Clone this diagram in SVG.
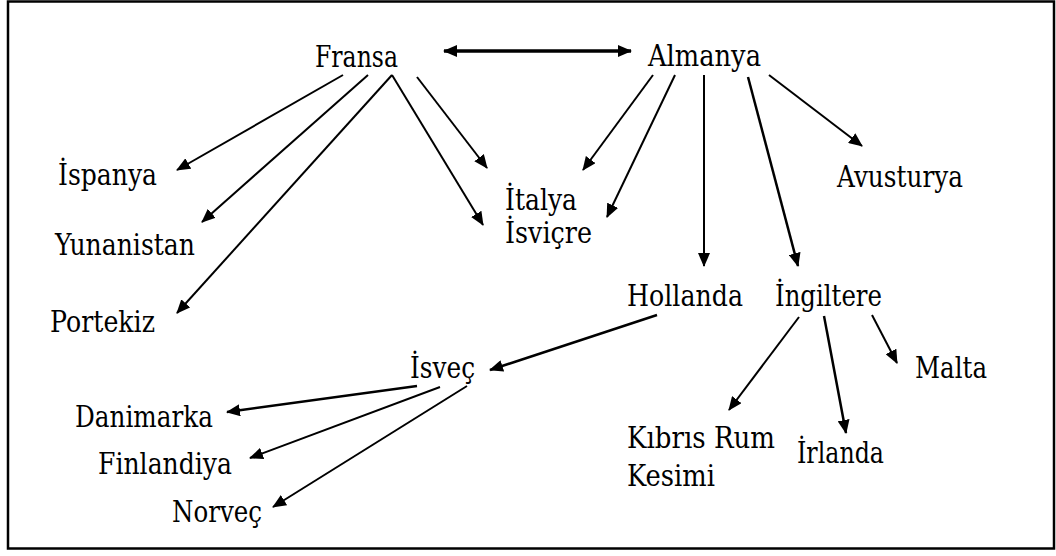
<svg xmlns="http://www.w3.org/2000/svg" width="1056" height="556" viewBox="0 0 1056 556">
<style>
.c line{stroke:#000;stroke-width:2;marker-end:url(#ah)}
.t text{font-family:"DejaVu Serif","Liberation Serif",serif;font-size:29px;fill:#000}
</style>
<defs>
<marker id="ah" markerUnits="userSpaceOnUse" markerWidth="14" markerHeight="12" refX="13" refY="6" orient="auto">
<path d="M0,0 L14,6 L0,12 Z" fill="#000"/>
</marker>
<marker id="as" markerUnits="userSpaceOnUse" markerWidth="14" markerHeight="12" refX="1" refY="6" orient="auto">
<path d="M14,0 L0,6 L14,12 Z" fill="#000"/>
</marker>
</defs>
<rect x="8" y="1.5" width="1046" height="547" fill="#fff" stroke="#000" stroke-width="2.5"/>
<g class="c" id="connectors">
<line x1="444" y1="51" x2="631" y2="51" style="stroke-width:3.5;marker-start:url(#as)"/>
<line x1="343" y1="75" x2="177" y2="170"/>
<line x1="368" y1="75" x2="202" y2="222"/>
<line x1="392" y1="75" x2="177" y2="313"/>
<line x1="392" y1="75" x2="483" y2="225"/>
<line x1="417" y1="77" x2="487" y2="168"/>
<line x1="653" y1="75" x2="583" y2="170"/>
<line x1="675" y1="75" x2="607" y2="217"/>
<line x1="704" y1="75" x2="704" y2="266"/>
<line x1="748" y1="77" x2="798" y2="266" style="stroke-width:2.5"/>
<line x1="769" y1="75" x2="862" y2="146"/>
<line x1="657" y1="315" x2="490" y2="370" style="stroke-width:2.5"/>
<line x1="417" y1="386" x2="227" y2="412" style="stroke-width:2.5"/>
<line x1="440" y1="387" x2="250" y2="458"/>
<line x1="467" y1="386" x2="273" y2="507"/>
<line x1="799" y1="317" x2="729" y2="410"/>
<line x1="824" y1="316" x2="846" y2="433" style="stroke-width:2.5"/>
<line x1="872" y1="315" x2="897" y2="363"/>
</g>
<g class="t">
<g id="fransa"><text x="315" y="67" textLength="83" lengthAdjust="spacingAndGlyphs">Fransa</text></g>
<g id="almanya"><text x="648" y="66" textLength="113" lengthAdjust="spacingAndGlyphs">Almanya</text></g>
<g id="ispanya"><text x="58" y="185" textLength="99" lengthAdjust="spacingAndGlyphs">İspanya</text></g>
<g id="yunanistan"><text x="55" y="255" textLength="140" lengthAdjust="spacingAndGlyphs">Yunanistan</text></g>
<g id="portekiz"><text x="50" y="332" textLength="105" lengthAdjust="spacingAndGlyphs">Portekiz</text></g>
<g id="italya"><text x="505" y="210" textLength="72" lengthAdjust="spacingAndGlyphs">İtalya</text></g>
<g id="isvicre"><text x="505" y="243" textLength="87" lengthAdjust="spacingAndGlyphs">İsviçre</text></g>
<g id="avusturya"><text x="837" y="187" textLength="126" lengthAdjust="spacingAndGlyphs">Avusturya</text></g>
<g id="hollanda"><text x="627" y="306" textLength="116" lengthAdjust="spacingAndGlyphs">Hollanda</text></g>
<g id="ingiltere"><text x="775" y="306" textLength="107" lengthAdjust="spacingAndGlyphs">İngiltere</text></g>
<g id="malta"><text x="915" y="378" textLength="72" lengthAdjust="spacingAndGlyphs">Malta</text></g>
<g id="kibris"><text x="627" y="448" textLength="148" lengthAdjust="spacingAndGlyphs">Kıbrıs Rum</text><text x="627" y="486" textLength="88" lengthAdjust="spacingAndGlyphs">Kesimi</text></g>
<g id="irlanda"><text x="797" y="463" textLength="87" lengthAdjust="spacingAndGlyphs">İrlanda</text></g>
<g id="isvec"><text x="410" y="378" textLength="65" lengthAdjust="spacingAndGlyphs">İsveç</text></g>
<g id="danimarka"><text x="75" y="427" textLength="138" lengthAdjust="spacingAndGlyphs">Danimarka</text></g>
<g id="finlandiya"><text x="98" y="474" textLength="134" lengthAdjust="spacingAndGlyphs">Finlandiya</text></g>
<g id="norvec"><text x="172" y="522" textLength="90" lengthAdjust="spacingAndGlyphs">Norveç</text></g>
</g>
</svg>
